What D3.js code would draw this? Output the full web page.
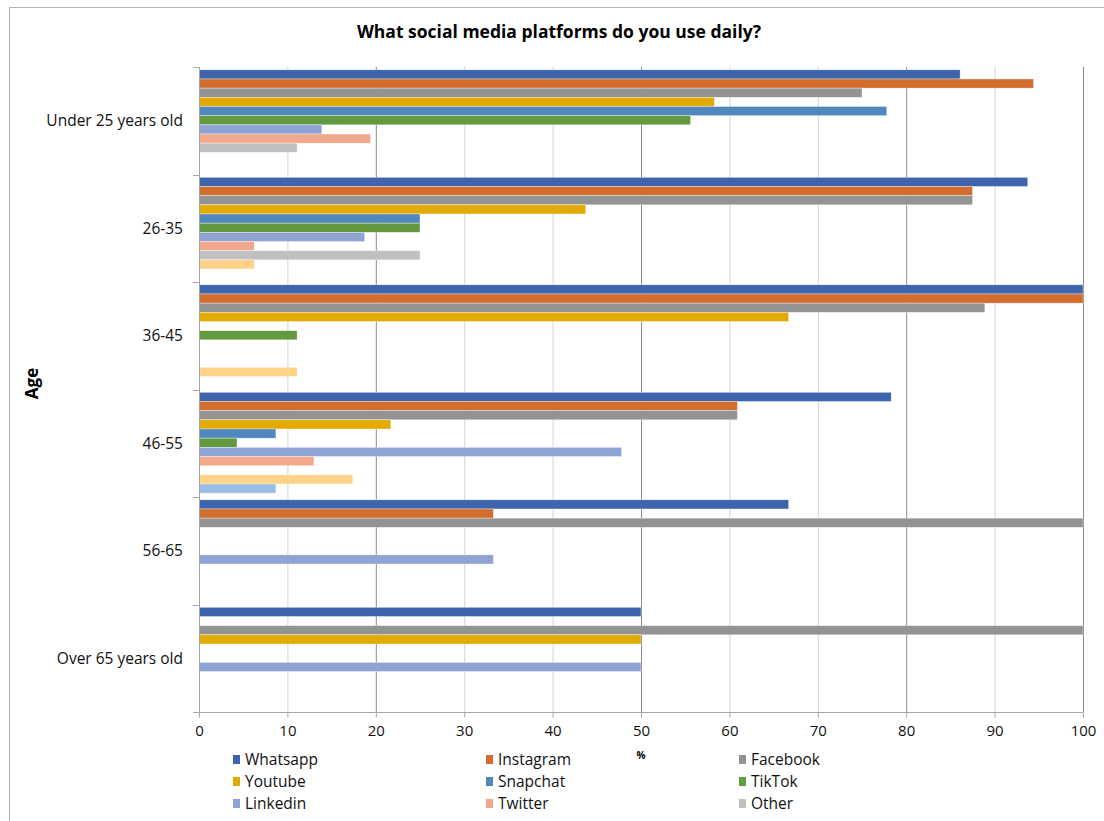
<!DOCTYPE html>
<html lang="en">
<head>
<meta charset="UTF-8">
<script src="https://d3js.org/d3.v7.min.js"></script>
<title>What social media platforms do you use daily?</title>
<style>
    body { margin: 0; background: #fff; }
    svg { font-family: "Open Sans", "DejaVu Sans", sans-serif; }
</style>
</head>
<body>
<div id="chart"></div>
<script>
    // age groups (top to bottom)
    var ageGroups = ["Under 25 years old", "26-35", "36-45", "46-55", "56-65", "Over 65 years old"];

    // platforms, in bar order inside each group (last two have no legend entry)
    var platforms = ["Whatsapp", "Instagram", "Facebook", "Youtube", "Snapchat", "TikTok", "Linkedin", "Twitter", "Other", "Series 10", "Series 11"];
    var legendNames = ["Whatsapp", "Instagram", "Facebook", "Youtube", "Snapchat", "TikTok", "Linkedin", "Twitter", "Other"];
    var colors = ["#3e64ad", "#d36d2d", "#939393", "#e3aa00", "#5088be", "#639a3f", "#8fa4d4", "#f1a88c", "#c0c0c0", "#ffd28a", "#9abde3"];

    // % using each platform daily, one row per age group, same order as platforms
    var under25 = [86.1, 94.4, 75.0, 58.3, 77.8, 55.6, 13.9, 19.4, 11.1, 0, 0];
    var age26_35 = [93.75, 87.5, 87.5, 43.75, 25.0, 25.0, 18.75, 6.25, 25.0, 6.25, 0];
    var age36_45 = [100, 100, 88.9, 66.7, 0, 11.1, 0, 0, 0, 11.1, 0];
    var age46_55 = [78.3, 60.9, 60.9, 21.7, 8.7, 4.3, 47.8, 13.0, 0, 17.4, 8.7];
    var age56_65 = [66.7, 33.3, 100, 0, 0, 0, 33.3, 0, 0, 0, 0];
    var over65 = [50, 0, 100, 50, 0, 0, 50, 0, 0, 0, 0];
    var values = [under25, age26_35, age36_45, age46_55, age56_65, over65];

    var xTicks = [0, 10, 20, 30, 40, 50, 60, 70, 80, 90, 100];

    var width = 1104, height = 821;
    var plotL = 199, plotR = 1083, plotT = 67, plotB = 712;

    var svg = d3.select("#chart").append("svg")
        .attr("width", width)
        .attr("height", height);

    // outer frame
    svg.append("rect")
        .attr("x", 9.5).attr("y", 7.5)
        .attr("width", 1200).attr("height", 900)
        .attr("fill", "none")
        .attr("stroke", "#b4b4b4");

    svg.append("text")
        .attr("x", 559).attr("y", 38)
        .attr("text-anchor", "middle")
        .attr("font-size", "17.5px")
        .attr("font-weight", "bold")
        .text("What social media platforms do you use daily?");

    var x = d3.scaleLinear().domain([0, 100]).range([plotL, plotR]);
    var y = d3.scaleBand().domain(ageGroups).range([plotT, plotB]).padding(0);
    var yInner = d3.scaleBand().domain(platforms).range([0, y.bandwidth()])
        .paddingInner(0).paddingOuter(0.36);

    // vertical gridlines
    svg.append("g")
        .selectAll("line")
        .data(xTicks.slice(1))
        .join("line")
        .attr("x1", function(d){ return x(d) + 0.5 })
        .attr("x2", function(d){ return x(d) + 0.5 })
        .attr("y1", plotT).attr("y2", plotB)
        .attr("stroke", function(d){ return (d == 20 || d == 50 || d == 80 || d == 100) ? "#8a8a8a" : "#d4d4d4" })
        .attr("stroke-width", 1);

    // bars
    var groups = svg.append("g")
        .selectAll("g")
        .data(values)
        .join("g")
        .attr("transform", function(d, i){ return "translate(0," + (y(ageGroups[i]) - 0.5) + ")" });

    groups.selectAll("rect")
        .data(function(d){ return d.map(function(v, j){ return {name: platforms[j], value: v, color: colors[j]} }).filter(function(e){ return e.value > 0 }) })
        .join("rect")
        .attr("x", x(0))
        .attr("y", function(d){ return yInner(d.name) })
        .attr("width", function(d){ return x(d.value) - x(0) })
        .attr("height", yInner.bandwidth())
        .attr("fill", function(d){ return d.color })
        .attr("stroke", "#ffffff")
        .attr("stroke-opacity", 0.6)
        .attr("stroke-width", 0.6);

    // x axis
    var xAxis = svg.append("g")
        .attr("transform", "translate(0," + (plotB + 0.5) + ")")
        .call(d3.axisBottom(x).tickValues(xTicks).tickSize(5).tickPadding(8).tickSizeOuter(0));
    xAxis.select(".domain").remove();
    xAxis.append("line")
        .attr("x1", plotL - 6).attr("x2", plotR).attr("y1", 0).attr("y2", 0)
        .attr("stroke", "#a6a6a6");
    xAxis.selectAll(".tick line").attr("stroke", "#a6a6a6");
    xAxis.selectAll(".tick text")
        .attr("font-size", "15px")
        .attr("font-family", "'Open Sans', sans-serif")
        .attr("fill", "#111");

    // y axis
    svg.append("line")
        .attr("x1", plotL + 0.5).attr("x2", plotL + 0.5)
        .attr("y1", plotT).attr("y2", plotB)
        .attr("stroke", "#a6a6a6");
    var boundaries = ageGroups.map(function(g){ return y(g) }).concat([plotB]);
    svg.append("g")
        .selectAll("line")
        .data(boundaries)
        .join("line")
        .attr("x1", plotL - 6).attr("x2", plotL)
        .attr("y1", function(d){ return Math.round(d) + 0.5 })
        .attr("y2", function(d){ return Math.round(d) + 0.5 })
        .attr("stroke", "#a6a6a6");
    svg.append("g")
        .selectAll("text")
        .data(ageGroups)
        .join("text")
        .attr("x", 183)
        .attr("y", function(d){ return y(d) + y.bandwidth() / 2 })
        .attr("dy", "0.35em")
        .attr("text-anchor", "end")
        .attr("font-size", "15.5px")
        .attr("fill", "#111")
        .text(function(d){ return d });

    // axis titles
    svg.append("text")
        .attr("transform", "translate(38," + ((plotT + plotB) / 2 - 6) + ") rotate(-90)")
        .attr("text-anchor", "middle")
        .attr("font-size", "17px")
        .attr("font-weight", "bold")
        .text("Age");
    svg.append("text")
        .attr("x", (plotL + plotR) / 2).attr("y", 759)
        .attr("text-anchor", "middle")
        .attr("font-size", "10px")
        .attr("font-weight", "bold")
        .text("%");

    // legend, 3 columns
    var legendCols = [233, 486, 739];
    var legendRows = [760, 782, 804];
    var legend = svg.append("g")
        .selectAll("g")
        .data(legendNames)
        .join("g")
        .attr("transform", function(d, i){ return "translate(" + legendCols[i % 3] + "," + legendRows[Math.floor(i / 3)] + ")" });
    legend.append("rect")
        .attr("x", 0).attr("y", -5)
        .attr("width", 7).attr("height", 9)
        .attr("fill", function(d, i){ return colors[i] });
    legend.append("text")
        .attr("x", 12).attr("y", 0)
        .attr("dy", "0.35em")
        .attr("font-size", "15.5px")
        .attr("fill", "#111")
        .text(function(d){ return d });
</script>
</body>
</html>
